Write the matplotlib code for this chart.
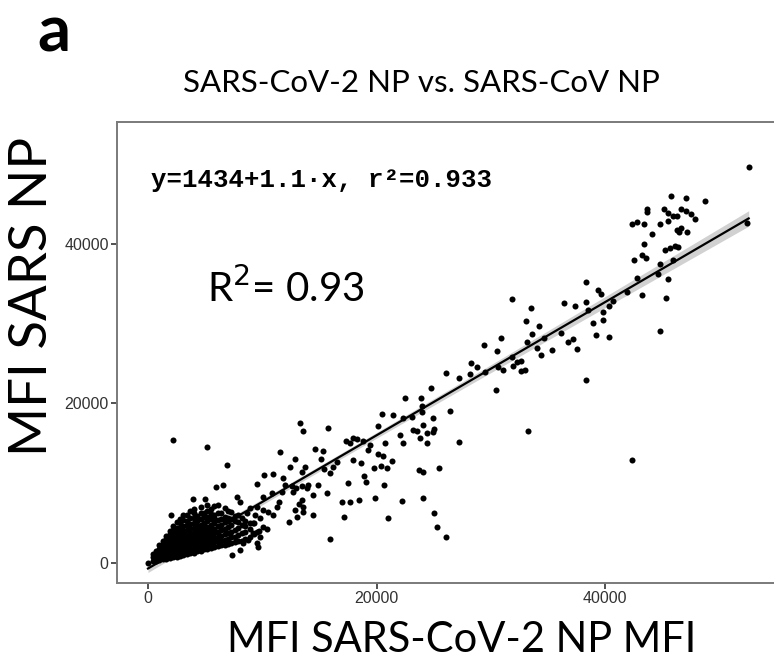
import numpy as np
import matplotlib
matplotlib.use("Agg")
import matplotlib.pyplot as plt

# points, outside the dense cluster
x_sparse = [52560, 52390, 45760, 47080, 48770, 43690, 43690, 45150, 46640, 47080,
            47510, 47840, 45500, 45940, 46290, 42320, 42810, 43430, 44800, 45530,
            46640, 46310, 46490, 47140, 44130, 43430, 45240, 45680, 46110, 46400,
            43200, 43580, 42550, 44800, 44600, 45960, 42810, 45530, 43230, 45330,
            41890, 44800, 42350,
            38330, 39380, 39640, 38330, 37360, 36400, 38530, 39790, 40340, 40710,
            38960, 39790, 39170, 40310, 36160, 36780, 37160, 37510, 38330, 31820,
            33510, 33080, 34210, 33630, 33140, 34060, 34410, 35320, 34650, 29400,
            30890, 30560, 30450, 31820, 32260, 32610, 31960, 32640, 32990, 31040,
            30600, 28240, 28810, 29490, 28150, 27210, 26050, 24760, 23860, 22490,
            26430, 24960, 23980, 23950, 23210, 24090, 24390, 25050, 23800, 24440,
            27190, 33280, 22340, 22050, 22290,
            20450, 21410, 20100, 23070, 23510, 24960, 20740, 13300, 13590, 15750,
            17300, 17910, 18260, 17680, 18840, 19430, 19280, 14640, 15340, 11550,
            12860, 15140, 16510, 17910, 18640, 20100, 20540, 21320, 12430, 13740,
            13450, 15400, 16160, 15930, 19800, 20390, 20890, 23710, 24040, 25460,
            10150, 10960, 11790, 9510, 11990, 12570, 13450, 14030, 14900, 13890,
            12920, 12660, 17470, 18930, 19080, 20680, 10040, 10820, 11700, 15690,
            14460, 13450, 13210, 13590, 11490, 16950, 17680, 18490, 19860, 22250,
            24090, 12860, 13590, 14410, 13040, 12310, 17180, 21030, 25050, 25310,
            26080, 15930,
            8930, 9510, 10090, 10530, 10960, 9360, 9800, 9210, 10090, 10390,
            9510, 9210, 9510, 9650,
            0, 2210, 5140, 6890, 5950, 6590, 2010, 3960, 4990, 7320,
            7760, 8050, 8640, 9800, 8340, 8780, 8050, 11260, 610]
y_sparse = [49540, 42530, 45990, 45740, 45360, 44320, 43940, 44260, 44320, 44070,
            43690, 43110, 43820, 43480, 43410, 42410, 42690, 42480, 42480, 42780,
            41980, 41650, 41400, 41480, 41230, 39940, 39230, 39480, 39650, 39530,
            38560, 38150, 37940, 37400, 36150, 37940, 35650, 35560, 33550, 33220,
            33970, 29010, 12930,
            35140, 34180, 33680, 32710, 32180, 32510, 31680, 31460, 32210, 32840,
            30010, 30420, 28510, 28290, 28800, 27710, 28080, 26760, 22950, 33090,
            31960, 30300, 29670, 28670, 27710, 26880, 26080, 26630, 28130, 27290,
            28210, 26580, 21660, 25830, 25200, 25290, 24660, 24080, 24160, 24160,
            24500, 25000, 24500, 23950, 23630, 23160, 23750, 21910, 20660, 20620,
            19030, 18190, 18870, 19660, 16650, 17240, 16310, 16810, 15610, 15020,
            15150, 16560, 18120, 16030, 14990,
            18620, 18570, 17150, 18320, 16560, 16360, 15020, 17490, 16560, 16940,
            15310, 15690, 15490, 15060, 15270, 14770, 14150, 14270, 14060, 13930,
            13020, 12980, 12680, 12900, 12560, 13650, 13430, 12770, 12060, 12060,
            11360, 11730, 11980, 11230, 11860, 12140, 11860, 11640, 11430, 11860,
            11020, 11110, 10680, 9850, 9770, 9640, 9640, 9770, 9770, 9350,
            9350, 8930, 9980, 10930, 10180, 9770, 8300, 8730, 8930, 8800,
            8510, 7890, 7350, 7050, 7600, 7670, 7670, 7890, 8140, 7720,
            8180, 6640, 6420, 6010, 5720, 5100, 5800, 5670, 6220, 4540,
            3290, 2970,
            6850, 7050, 6640, 6420, 6010, 6010, 5600, 4970, 4540, 4260,
            3920, 3720, 2470, 2040,
            40, 15400, 14490, 12310, 9480, 9770, 6010, 8010, 8010, 1000,
            8300, 7670, 6220, 3290, 2470, 2880, 1630, 7050, 790]

# the dense cluster near the origin, column by column
cluster = {
    400: [300, 700, 1100],
    700: [250, 650, 1050, 1500],
    1000: [400, 850, 1300, 1750, 2200],
    1300: [450, 900, 1400, 1900, 2400, 2800],
    1600: [500, 1000, 1500, 2000, 2500, 3000, 3400],
    1900: [600, 1100, 1600, 2100, 2600, 3100, 3600, 4000],
    2200: [700, 1200, 1700, 2200, 2700, 3200, 3700, 4100, 4600],
    2500: [800, 1300, 1800, 2300, 2800, 3300, 3800, 4400, 5100],
    2800: [900, 1400, 1900, 2400, 2900, 3400, 3900, 4400, 5000, 5500],
    3100: [1000, 1500, 2000, 2500, 3000, 3500, 4000, 4600, 5400, 6000],
    3400: [1100, 1600, 2100, 2600, 3100, 3600, 4100, 4700, 5200, 6000],
    3700: [1200, 1700, 2200, 2700, 3200, 3700, 4300, 4900, 5600, 6500],
    4000: [1300, 1800, 2300, 2800, 3300, 3800, 4400, 5000, 5600, 6200, 6800],
    4300: [1450, 1950, 2450, 2950, 3450, 4000, 4600, 5300, 5900],
    4600: [1550, 2050, 2550, 3050, 3600, 4200, 4800, 5500, 6300, 7000],
    4900: [1700, 2200, 2700, 3200, 3800, 4400, 5000, 5700, 6300],
    5200: [1800, 2300, 2800, 3300, 3900, 4500, 5200, 5800, 6500, 7200],
    5500: [1900, 2400, 2900, 3500, 4100, 4800, 5500, 6100, 6700],
    5800: [2000, 2600, 3100, 3700, 4300, 5000, 5600, 6000, 7100],
    6100: [2100, 2700, 3300, 3900, 4600, 5400, 6300, 7300],
    6400: [2200, 2800, 3400, 4100, 4800, 5500, 6300],
    6700: [2300, 2900, 3600, 4300, 5100, 5800, 6900],
    7000: [2400, 3000, 3700, 4500, 5200, 5600, 6500],
    7300: [2500, 3200, 3900, 4800, 5500, 6400],
    7600: [2600, 3300, 4100, 5200, 5900],
    7900: [2700, 3500, 4400, 5100, 6000],
    8200: [2800, 3700, 4700, 5600],
    8500: [3000, 3900, 4600, 5300],
    8900: [3300, 4300, 5000],
    9300: [3600, 5000],
    9700: [4000],
}

x_cl = [cx for cx, ys in cluster.items() for _ in ys]
y_cl = [cy for ys in cluster.values() for cy in ys]

x = np.array(x_sparse + x_cl, dtype=float)
y = np.array(y_sparse + y_cl, dtype=float)

x_ticks = [0, 20000, 40000]
y_ticks = [0, 20000, 40000]

fig = plt.figure(figsize=(7.74, 6.61), dpi=100)
ax = fig.add_axes([117/774, 78/661, 661/774, 461/661])

# linear fit with 95% band
n = len(x)
slope, icpt = np.polyfit(x, y, 1)
xs = np.linspace(x.min(), x.max(), 200)
ys = icpt + slope * xs
resid = y - (icpt + slope * x)
s = np.sqrt(np.sum(resid**2) / (n - 2))
se = s * np.sqrt(1/n + (xs - x.mean())**2 / np.sum((x - x.mean())**2))
ax.fill_between(xs, ys - 1.97*se, ys + 1.97*se, color='#999999', alpha=0.45, lw=0, zorder=2)
ax.scatter(x, y, s=19, color='black', lw=0, zorder=3)
ax.plot(xs, ys, color='black', lw=1.6, zorder=4)

ax.set_xlim(-2712, 55125)
ax.set_ylim(-2504, 55213)
ax.set_xticks(x_ticks)
ax.set_yticks(y_ticks)
for sp in ax.spines.values():
    sp.set_color('#7a7a7a')
    sp.set_linewidth(1.4)
ax.tick_params(length=4, width=1.2, color='#333333', labelcolor='#333333',
               labelsize=11.5, pad=2)
for lab in ax.get_xticklabels() + ax.get_yticklabels():
    lab.set_family('Liberation Sans')

ax.text(0.052, 0.875, 'y=1434+1.1·x, r²=0.933', transform=ax.transAxes,
        fontsize=18.5, family='Liberation Mono', fontweight='bold',
        va='center', ha='left')
ax.text(0.136, 0.64, 'R$^2$= 0.93', transform=ax.transAxes, fontsize=29,
        family='Lato', va='center', ha='left')

fig.text(54/774, 1 - 33/661, 'a', fontsize=47, fontweight='bold', family='Lato',
         ha='center', va='center')
fig.text(421/774, 1 - 83/661, 'SARS-CoV-2 NP vs. SARS-CoV NP', fontsize=22.5,
         family='Lato', ha='center', va='center')
fig.text(33/774, 1 - 296/661, 'MFI SARS NP', fontsize=38, family='Lato',
         rotation=90, ha='center', va='center')
fig.text(462/774, 1 - 640/661, 'MFI SARS-CoV-2 NP MFI', fontsize=30, family='Lato',
         ha='center', va='center')

fig.savefig('out.png', dpi=100)
